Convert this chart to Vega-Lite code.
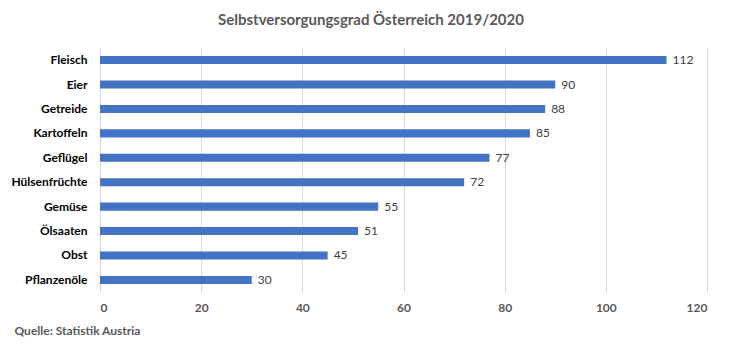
{
  "$schema": "https://vega.github.io/schema/vega-lite/v6.json",
  "autosize": {"type": "none"},
  "width": 607,
  "height": 244,
  "padding": {"left": 100, "top": 48, "right": 30, "bottom": 66},
  "background": "white",
  "config": {"font": "Lato", "view": {"stroke": null}},
  "title": {
    "text": "Selbstversorgungsgrad Österreich 2019/2020",
    "anchor": "middle",
    "frame": "bounds",
    "dx": 12,
    "offset": 20,
    "fontSize": 15,
    "fontWeight": "bold",
    "color": "#595959",
    "font": "Lato"
  },
  "data": {
    "values": [
      {"kategorie": "Fleisch", "wert": 112},
      {"kategorie": "Eier", "wert": 90},
      {"kategorie": "Getreide", "wert": 88},
      {"kategorie": "Kartoffeln", "wert": 85},
      {"kategorie": "Geflügel", "wert": 77},
      {"kategorie": "Hülsenfrüchte", "wert": 72},
      {"kategorie": "Gemüse", "wert": 55},
      {"kategorie": "Ölsaaten", "wert": 51},
      {"kategorie": "Obst", "wert": 45},
      {"kategorie": "Pflanzenöle", "wert": 30}
    ]
  },
  "encoding": {
    "y": {
      "field": "kategorie",
      "type": "nominal",
      "sort": null,
      "scale": {"paddingInner": 0.67, "paddingOuter": 0.33},
      "axis": {
        "title": null,
        "ticks": false,
        "domain": false,
        "labelFontSize": 12,
        "labelFontWeight": "bold",
        "labelColor": "#000000",
        "labelPadding": 13
      }
    },
    "x": {
      "field": "wert",
      "type": "quantitative",
      "scale": {"domain": [0, 120], "nice": false},
      "axis": {
        "values": [0, 20, 40, 60, 80, 100, 120],
        "title": "Quelle: Statistik Austria",
        "titleAnchor": "start",
        "titleAlign": "left",
        "titleX": -86,
        "titleY": 33,
        "titleFontSize": 12,
        "titleFontWeight": "bold",
        "titleColor": "#595959",
        "ticks": false,
        "domain": false,
        "grid": true,
        "gridColor": "#d9d9d9",
        "labelFontSize": 12,
        "labelFontWeight": "bold",
        "labelColor": "#595959",
        "labelPadding": 10
      }
    }
  },
  "layer": [
    {"mark": {"type": "bar", "color": "#4472C4"}},
    {
      "mark": {"type": "text", "align": "left", "dx": 6, "fontSize": 12, "color": "#404040"},
      "encoding": {"text": {"field": "wert", "type": "quantitative"}}
    }
  ]
}
